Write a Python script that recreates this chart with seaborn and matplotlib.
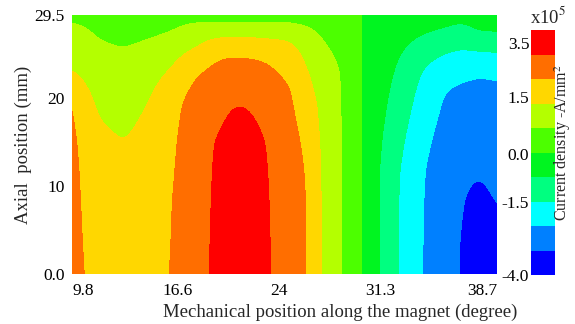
import numpy as np
import matplotlib
matplotlib.use("Agg")
import matplotlib.pyplot as plt
import seaborn as sns

# mechanical position (degree) of each grid column
x_deg = [8.95, 9.7, 11.0, 12.7, 14.5, 16.1, 17.8, 19.0, 20.0, 21.1, 22.3, 23.2,
         24.7, 26.2, 26.9, 28.5, 29.4, 30.5, 31.2, 32.6, 34.4, 36.0, 37.2,
         38.5, 39.75]

# axial position (mm) of each grid row
y_mm = [0.0, 4.0, 8.4, 11.9, 15.3, 19.3, 21.0, 23.0, 25.0, 27.4, 29.5]

# current density (x1e5 A/mm^2), one row per axial position
j_density = [
    [2.40, 2.02, 1.70, 1.65, 1.75, 2.00, 2.45, 2.75, 3.10, 3.30, 3.20, 2.78, 2.40, 1.95, 1.27, 0.52, -0.05, -0.45, -1.02, -1.75, -2.50, -3.15, -3.25, -3.60, -3.45],
    [2.40, 1.95, 1.68, 1.62, 1.73, 1.97, 2.45, 2.74, 3.10, 3.30, 3.20, 2.76, 2.38, 1.95, 1.27, 0.52, -0.05, -0.45, -1.02, -1.75, -2.50, -3.12, -3.25, -3.55, -3.40],
    [2.35, 1.90, 1.62, 1.55, 1.70, 1.95, 2.42, 2.72, 3.05, 3.25, 3.15, 2.74, 2.35, 1.95, 1.26, 0.52, -0.05, -0.45, -1.01, -1.74, -2.48, -3.05, -3.22, -3.40, -3.22],
    [2.30, 1.85, 1.55, 1.45, 1.60, 1.90, 2.40, 2.70, 3.00, 3.15, 3.05, 2.72, 2.30, 1.90, 1.25, 0.52, -0.05, -0.45, -1.00, -1.70, -2.45, -2.95, -3.15, -3.20, -3.10],
    [2.20, 1.80, 1.40, 1.23, 1.45, 1.85, 2.35, 2.68, 2.90, 3.00, 2.92, 2.68, 2.22, 1.80, 1.20, 0.52, -0.05, -0.45, -0.90, -1.55, -2.30, -2.80, -3.00, -3.05, -2.95],
    [2.08, 1.60, 1.10, 1.00, 1.26, 1.75, 2.25, 2.30, 2.65, 2.78, 2.65, 2.35, 2.10, 1.60, 1.10, 0.52, -0.05, -0.45, -0.75, -1.35, -2.05, -2.60, -2.75, -2.80, -2.72],
    [1.85, 1.40, 0.98, 0.90, 1.12, 1.60, 2.10, 2.22, 2.45, 2.50, 2.45, 2.25, 2.08, 1.40, 1.00, 0.51, -0.05, -0.45, -0.68, -1.25, -1.95, -2.50, -2.60, -2.65, -2.60],
    [1.27, 1.10, 0.85, 0.75, 0.95, 1.30, 1.92, 2.10, 2.25, 2.25, 2.22, 2.12, 1.85, 1.20, 0.90, 0.50, -0.05, -0.45, -0.60, -1.12, -1.80, -2.20, -2.35, -2.45, -2.40],
    [1.00, 0.90, 0.70, 0.58, 0.75, 1.00, 1.45, 1.80, 1.95, 1.98, 1.92, 1.85, 1.60, 1.00, 0.75, 0.35, -0.05, -0.45, -0.50, -0.95, -1.50, -1.80, -1.95, -1.90, -1.85],
    [0.70, 0.65, 0.40, 0.30, 0.40, 0.50, 0.75, 1.05, 1.10, 1.10, 1.08, 1.05, 1.05, 0.70, 0.48, 0.10, -0.05, -0.45, -0.40, -0.70, -0.97, -1.10, -1.20, -1.00, -1.00],
    [0.35, 0.30, 0.20, 0.10, 0.20, 0.30, 0.30, 0.10, 0.10, 0.10, 0.10, 0.10, 0.10, 0.10, 0.00, -0.05, -0.05, -0.45, -0.35, -0.60, -0.70, -0.80, -0.85, -0.80, -0.70],
]

levels = [-4.0, -3.25, -2.5, -1.75, -1.0, -0.25, 0.5, 1.25, 2.0, 2.75, 3.5]
band_colors = ["#0000FF", "#0080FF", "#00FFFF", "#00FF80", "#00F520",
               "#4CFF00", "#B4FF00", "#FFD700", "#FF6E00", "#FF0000"]

x_ticks = [9.8, 16.6, 24, 31.3, 38.7]
x_ticklabels = ["9.8", "16.6", "24", "31.3", "38.7"]
y_ticks = [0, 10, 20, 29.5]
y_ticklabels = ["0.0", "10", "20", "29.5"]
cbar_ticks = [3.1, 1.45, -0.3, -1.77, -4.0]
cbar_ticklabels = ["3.5", "1.5", "0.0", "-1.5", "-4.0"]


def smooth_grid(xs, ys, z, nx=420, ny=220, sx=5, sy=5):
    # bilinear resample onto a fine grid, then a light blur to round corners
    xf = np.linspace(xs[0], xs[-1], nx)
    yf = np.linspace(ys[0], ys[-1], ny)
    zx = np.array([np.interp(xf, xs, row) for row in z])
    zf = np.array([np.interp(yf, ys, col) for col in zx.T]).T
    for axis, s in ((1, sx), (0, sy)):
        k = np.exp(-0.5 * (np.arange(-3 * s, 3 * s + 1) / s) ** 2)
        k /= k.sum()
        pad = [(0, 0), (0, 0)]
        pad[axis] = (3 * s, 3 * s)
        zp = np.pad(zf, pad, mode="edge")
        zf = np.apply_along_axis(lambda v: np.convolve(v, k, mode="valid"), axis, zp)
    return xf, yf, zf


sns.set_theme(style="white")
plt.rcParams["font.family"] = ["Liberation Serif", "DejaVu Serif"]
plt.rcParams["mathtext.fontset"] = "stix"

fig = plt.figure(figsize=(5.75, 3.24), dpi=100)
ax = fig.add_axes([0.1247, 0.1543, 0.7391, 0.7994])
cax = fig.add_axes([0.9240, 0.1512, 0.0415, 0.7562])

xf, yf, zf = smooth_grid(x_deg, y_mm, np.array(j_density))
cs = ax.contourf(xf, yf, zf, levels=levels,
                 colors=sns.color_palette(band_colors))

ax.set_xlim(8.95, 39.75)
ax.set_ylim(0, 29.5)
ax.set_xticks(x_ticks)
ax.set_xticklabels(x_ticklabels)
ax.set_yticks(y_ticks)
ax.set_yticklabels(y_ticklabels)
ax.tick_params(axis="x", length=0, pad=6.5, labelsize=12.5, colors="black")
ax.tick_params(axis="y", length=0, pad=5, labelsize=12.5, colors="black")
for s in ax.spines.values():
    s.set_visible(False)

cb = fig.colorbar(cs, cax=cax)
cb.outline.set_visible(False)
cb.set_ticks(cbar_ticks)
cb.set_ticklabels(cbar_ticklabels)
cax.yaxis.set_ticks_position("left")
cax.tick_params(length=0, pad=1.5, labelsize=12.5, colors="black")

fig.text(0.591, 0.037, "Mechanical position along the magnet (degree)",
         ha="center", va="center", fontsize=13.5)
fig.text(0.040, 0.552, "Axial  position (mm)", rotation=90,
         ha="center", va="center", fontsize=13.5)
fig.text(0.953, 0.948, r"x10$^5$", ha="center", va="center", fontsize=13.5)
fig.text(0.979, 0.56, r"Current density -A/mm$^2$", rotation=90,
         ha="center", va="center", fontsize=11.5)

fig.savefig("out.png", dpi=100)
